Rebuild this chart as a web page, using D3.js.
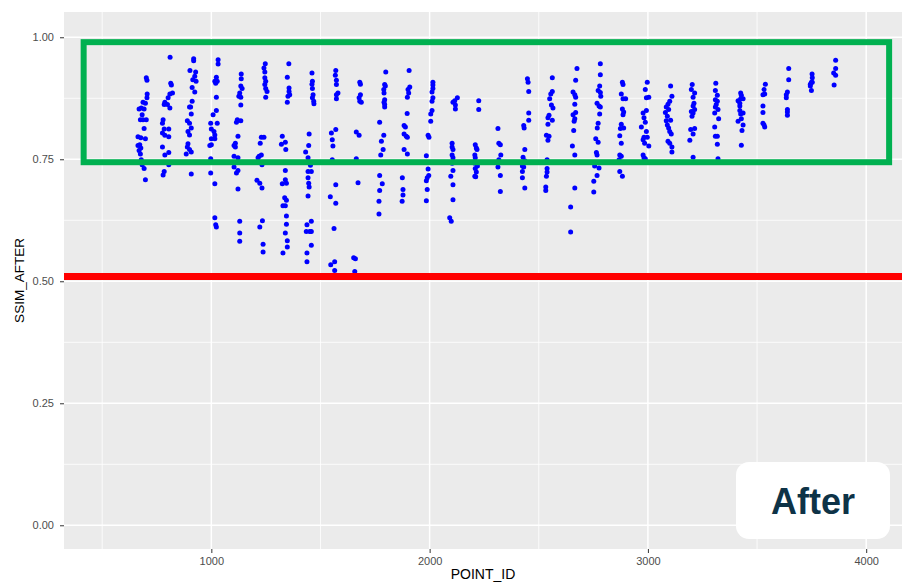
<!DOCTYPE html>
<html>
<head>
<meta charset="utf-8">
<script src="https://cdn.jsdelivr.net/npm/d3@7"></script>
<style>
  body { margin: 0; background: #fff; }
  svg { display: block; font-family: "Liberation Sans", Arial, sans-serif; }
</style>
</head>
<body>
<div id="chart"></div>
<script>
// point ids, one line per column of points
const pointId = [
  702,705,706,705,687,698,679,669,692,683,675,687,702,692,664,677,698,664,672,677,669,675,679,683,692,698,
  811,814,817,810,822,802,787,799,784,810,779,776,784,805,776,787,805,776,805,787,805,784,779,
  919,919,902,928,924,915,930,912,924,912,905,900,908,890,900,908,893,900,893,890,900,908,885,908,
  1031,1031,1023,1016,1027,1020,1023,1023,1008,997,1027,1000,1012,1016,1000,1016,993,1000,997,997,1016,1016,1020,1023,
  1137,1137,1135,1141,1130,1126,1135,1135,1119,1135,1115,1122,1110,1104,1110,1104,1122,1104,1122,1115,1122,1130,1130,1130,
  1247,1241,1245,1245,1249,1245,1249,1255,1249,1229,1241,1224,1229,1219,1214,1232,1209,1222,1232,1234,1222,1237,1237,
  1355,1348,1356,1356,1359,1351,1348,1325,1339,1321,1341,1339,1339,1325,1344,1336,1344,1328,1339,1344,1344,1339,1348,1348,1328,
  1461,1463,1461,1463,1466,1463,1469,1470,1448,1446,1432,1443,1454,1458,1443,1443,1446,1448,1443,1458,1438,1451,1458,1435,1458,1438,1438,
  1570,1568,1573,1573,1580,1573,1573,1570,1550,1554,1557,1554,1570,1545,1570,1562,1565,1547,1565,
  1680,1683,1683,1677,1687,1680,1664,1677,1664,1672,1652,1660,1657,
  1799,1794,1797,1790,1791,1794,1791,1794,1794,1771,1790,1779,1787,1776,1771,1783,1771,1768,1768,
  1906,1909,1901,1904,1898,1897,1883,1889,1883,1893,1898,1883,1898,1875,1878,1878,1874,
  2015,2015,2015,2011,2015,2011,2011,2005,2005,1993,1997,1985,1993,1996,1989,1985,1989,1985,
  2127,2115,2107,2118,2118,2103,2103,2107,2103,2107,2103,2107,2097,2107,2107,2092,2099,
  2225,2225,2209,2214,2217,2207,2209,2207,2219,2209,2214,2207,2211,
  2313,2317,2324,2326,2317,2313,2324,2324,
  2448,2451,2454,2454,2454,2431,2433,2436,2428,2436,2425,2431,2425,2425,2436,
  2562,2562,2555,2550,2558,2565,2547,2542,2562,2542,2535,2547,2542,2538,2538,2538,2535,2532,2532,
  2675,2669,2657,2665,2669,2665,2669,2657,2665,2662,2660,2654,2665,2665,2646,2646,
  2782,2782,2779,2772,2782,2784,2767,2776,2782,2779,2772,2768,2761,2772,2764,2767,2756,2776,2767,2752,2752,
  2883,2886,2878,2886,2898,2883,2889,2886,2878,2889,2874,2871,2878,2871,2878,2868,2871,2883,
  2997,2988,2993,3004,2993,2978,2982,2988,2970,2993,2982,2997,2978,2985,3004,2978,2982,2988,
  3104,3110,3100,3092,3084,3095,3080,3089,3104,3084,3089,3095,3100,3107,3092,3100,3110,3110,
  3203,3199,3214,3207,3211,3207,3214,3199,3207,3202,3214,3196,3207,3192,3207,
  3311,3309,3318,3309,3318,3313,3309,3321,3306,3324,3306,3309,3318,3318,3321,
  3425,3428,3425,3436,3413,3421,3421,3421,3436,3425,3428,3413,3436,3431,3428,
  3538,3532,3527,3535,3527,3527,3527,3532,3535,
  3645,3645,3639,3634,3634,3639,3639,3639,
  3752,3753,3749,3744,3753,3744,3749,
  3860,3860,3851,3860,3853
];

// SSIM after, same order as pointId
const ssimAfter = [
  .917,.912,.884,.876,.867,.865,.855,.853,.853,.841,.831,.831,.831,.813,.796,.794,.792,.778,.780,.773,.768,.761,.749,.739,.731,.708,
  .959,.906,.902,.884,.886,.876,.867,.862,.862,.855,.831,.824,.812,.812,.804,.799,.796,.775,.764,.759,.739,.725,.718,
  .956,.952,.932,.929,.920,.913,.910,.897,.888,.869,.857,.857,.843,.829,.824,.814,.807,.800,.782,.775,.770,.765,.761,.720,
  .954,.945,.918,.910,.910,.906,.877,.850,.841,.824,.824,.812,.807,.800,.792,.792,.778,.780,.751,.722,.700,.630,.616,.611,
  .925,.915,.900,.895,.886,.879,.877,.861,.831,.829,.826,.797,.783,.778,.775,.756,.753,.734,.727,.722,.689,.623,.599,.582,
  .946,.937,.929,.917,.910,.903,.895,.889,.877,.795,.795,.783,.759,.756,.753,.739,.707,.701,.691,.624,.611,.576,.560,
  .946,.918,.896,.889,.882,.879,.867,.797,.785,.781,.770,.727,.708,.700,.701,.671,.666,.655,.655,.634,.617,.599,.583,.570,.558,
  .927,.910,.904,.895,.882,.876,.869,.864,.802,.778,.765,.753,.738,.725,.725,.712,.701,.693,.675,.623,.616,.602,.602,.602,.574,.558,.540,
  .932,.922,.912,.903,.886,.882,.874,.811,.804,.790,.777,.749,.698,.673,.660,.608,.540,.534,.522,
  .908,.904,.882,.876,.867,.869,.806,.799,.751,.702,.548,.546,.520,
  .929,.903,.900,.893,.886,.872,.867,.862,.857,.826,.799,.787,.770,.759,.717,.700,.686,.664,.638,
  .932,.898,.893,.886,.877,.844,.819,.816,.802,.797,.795,.770,.761,.712,.688,.677,.664,
  .908,.902,.895,.888,.876,.869,.850,.843,.828,.799,.795,.757,.730,.717,.712,.706,.688,.665,
  .876,.870,.867,.861,.853,.783,.775,.770,.759,.753,.742,.727,.715,.698,.667,.630,.623,
  .870,.852,.780,.773,.770,.759,.753,.742,.736,.731,.724,.715,.714,
  .813,.783,.780,.759,.749,.734,.717,.684,
  .915,.908,.889,.845,.830,.819,.814,.770,.754,.747,.736,.734,.725,.712,.691,
  .917,.889,.884,.874,.861,.855,.840,.835,.830,.822,.799,.797,.789,.749,.731,.724,.715,.693,.686,
  .936,.912,.888,.882,.877,.863,.846,.841,.833,.828,.809,.777,.759,.691,.652,.601,
  .946,.923,.900,.891,.887,.879,.865,.859,.857,.843,.824,.814,.792,.785,.764,.759,.736,.732,.717,.705,.683,
  .908,.903,.884,.874,.874,.853,.847,.841,.822,.814,.813,.798,.783,.759,.756,.749,.725,.715,
  .908,.893,.876,.877,.850,.845,.835,.826,.816,.807,.795,.795,.790,.783,.777,.759,.753,.751,
  .900,.879,.869,.863,.857,.852,.846,.838,.830,.829,.820,.814,.807,.802,.787,.783,.775,.765,
  .903,.893,.886,.877,.865,.859,.852,.848,.845,.838,.813,.811,.802,.789,.754,
  .906,.891,.881,.872,.869,.862,.857,.852,.845,.833,.816,.797,.797,.781,.751,
  .886,.881,.874,.874,.870,.865,.859,.850,.845,.843,.833,.828,.820,.809,.779,
  .904,.893,.882,.884,.859,.846,.824,.820,.816,
  .936,.913,.888,.882,.876,.852,.847,.840,
  .925,.917,.908,.904,.908,.900,.891,
  .953,.936,.927,.922,.902
];

const xTicks = [1000, 2000, 3000, 4000];
const xMinor = [500, 1500, 2500, 3500];
const yTicks = [0, 0.25, 0.5, 0.75, 1];
const yMinor = [0.125, 0.375, 0.625, 0.875];

// annotations, in data units
const boxX = [415, 4105];
const boxY = [0.744, 0.990];
const redLineY = 0.510;

const W = 902, H = 582;
const panel = {left: 64, right: 902, top: 12, bottom: 549};

const svg = d3.select("#chart").append("svg")
    .attr("width", W)
    .attr("height", H);

const x = d3.scaleLinear().domain([325, 4164]).range([panel.left, panel.right]);
const y = d3.scaleLinear().domain([-0.0486, 1.0518]).range([panel.bottom, panel.top]);

// panel background
svg.append("rect")
    .attr("x", panel.left).attr("y", panel.top)
    .attr("width", panel.right - panel.left)
    .attr("height", panel.bottom - panel.top)
    .attr("fill", "#EBEBEB");

const grid = svg.append("g").attr("stroke", "#fff");

grid.selectAll(".ymin").data(yMinor).enter().append("line")
    .attr("x1", panel.left).attr("x2", panel.right)
    .attr("y1", d => y(d)).attr("y2", d => y(d))
    .attr("stroke-width", 0.8);
grid.selectAll(".xmin").data(xMinor).enter().append("line")
    .attr("y1", panel.top).attr("y2", panel.bottom)
    .attr("x1", d => x(d)).attr("x2", d => x(d))
    .attr("stroke-width", 0.8);
grid.selectAll(".ymaj").data(yTicks).enter().append("line")
    .attr("x1", panel.left).attr("x2", panel.right)
    .attr("y1", d => y(d)).attr("y2", d => y(d))
    .attr("stroke-width", 1.5);
grid.selectAll(".xmaj").data(xTicks).enter().append("line")
    .attr("y1", panel.top).attr("y2", panel.bottom)
    .attr("x1", d => x(d)).attr("x2", d => x(d))
    .attr("stroke-width", 1.5);

// axes
const yAxis = svg.append("g")
    .attr("transform", "translate(" + panel.left + ",0)")
    .call(d3.axisLeft(y).tickValues(yTicks).tickFormat(d3.format(".2f"))
        .tickSize(4).tickPadding(6));
const xAxis = svg.append("g")
    .attr("transform", "translate(0," + panel.bottom + ")")
    .call(d3.axisBottom(x).tickValues(xTicks).tickFormat(d3.format("d"))
        .tickSize(4).tickPadding(4));

[xAxis, yAxis].forEach(function (a) {
    a.select(".domain").remove();
    a.selectAll(".tick line").attr("stroke", "#333333");
    a.selectAll(".tick text")
        .attr("fill", "#4D4D4D")
        .style("font-size", "11px")
        .style("font-family", '"Liberation Sans", Arial, sans-serif');
});

// points
const points = d3.zip(pointId, ssimAfter);
svg.append("g").selectAll("circle")
    .data(points)
    .enter()
    .append("circle")
        .attr("cx", d => x(d[0]))
        .attr("cy", d => y(d[1]))
        .attr("r", 2.5)
        .attr("fill", "#0000FF");

// red threshold line
svg.append("line")
    .attr("x1", panel.left).attr("x2", panel.right)
    .attr("y1", y(redLineY)).attr("y2", y(redLineY))
    .attr("stroke", "#FF0000")
    .attr("stroke-width", 7);

// green box
svg.append("rect")
    .attr("x", x(boxX[0])).attr("y", y(boxY[1]))
    .attr("width", x(boxX[1]) - x(boxX[0]))
    .attr("height", y(boxY[0]) - y(boxY[1]))
    .attr("fill", "none")
    .attr("stroke", "#00B050")
    .attr("stroke-width", 6);

// axis titles
svg.append("text")
    .attr("x", (panel.left + panel.right) / 2)
    .attr("y", 579)
    .attr("text-anchor", "middle")
    .style("font-size", "14px")
    .attr("fill", "#000")
    .text("POINT_ID");

svg.append("text")
    .attr("transform", "translate(24," + ((panel.top + panel.bottom) / 2) + ") rotate(-90)")
    .attr("text-anchor", "middle")
    .style("font-size", "13.5px")
    .attr("fill", "#000")
    .text("SSIM_AFTER");

// "After" label
svg.append("rect")
    .attr("x", 736).attr("y", 462)
    .attr("width", 154).attr("height", 77)
    .attr("rx", 13).attr("ry", 13)
    .attr("fill", "#fff");

svg.append("text")
    .attr("x", 813).attr("y", 514)
    .attr("text-anchor", "middle")
    .style("font-size", "36px")
    .style("font-weight", "bold")
    .attr("fill", "#0E3347")
    .text("After");
</script>
</body>
</html>
